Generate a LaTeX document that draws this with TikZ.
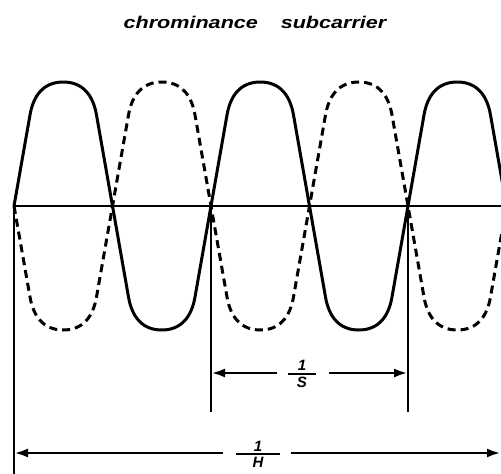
\documentclass[tikz,border=0pt]{standalone}
\usepackage{amsmath}
\usepackage{fontspec}
\usepackage{graphicx}
\setmainfont{Liberation Sans}
\usetikzlibrary{arrows.meta}
\tikzset{
  wave/.style={line width=3pt, line join=round},
  dashwave/.style={wave, dash pattern=on 8pt off 5pt},
  axisline/.style={line width=2.6pt},
  dimarrow/.style={line width=2.8pt, -{Latex[length=14pt,width=9pt]}},
  lbl/.style={font=\fontsize{15}{17}\selectfont\bfseries\itshape, inner sep=0pt}
}
\begin{document}
\begin{tikzpicture}[x=1pt,y=-1pt]
\useasboundingbox (0,0) rectangle (501,474);
% title
\node[anchor=base, font=\fontsize{17}{20}\selectfont\bfseries\itshape] (title) at (255,28)
  {\scalebox{1.27}[1]{chrominance\hspace{18pt}subcarrier}};
% key coordinates
\coordinate (o) at (14,206);
\coordinate (bend) at (501,206);
\coordinate (obot) at (14,474);
\coordinate (v1t) at (211,206);
\coordinate (v1b) at (211,412);
\coordinate (v2t) at (408,206);
\coordinate (v2b) at (408,412);
\begin{scope}
\clip (0,0) rectangle (501,474);
% solid wave
\draw[wave] (14,206)
  \foreach \x/\s in {14/1, 112.5/-1, 211/1, 309.5/-1, 408/1} {
    -- ({\x+16},{206-\s*91})
    .. controls ({\x+19.3},{206-\s*110}) and ({\x+29},{206-\s*124}) .. ({\x+49.25},{206-\s*124})
    .. controls ({\x+69.5},{206-\s*124}) and ({\x+79.2},{206-\s*110}) .. ({\x+82.5},{206-\s*91})
    -- ({\x+98.5},206)
  };
% dashed wave
\draw[dashwave] (14,206)
  \foreach \x/\s in {14/-1, 112.5/1, 211/-1, 309.5/1, 408/-1} {
    -- ({\x+16},{206-\s*91})
    .. controls ({\x+19.3},{206-\s*110}) and ({\x+29},{206-\s*124}) .. ({\x+49.25},{206-\s*124})
    .. controls ({\x+69.5},{206-\s*124}) and ({\x+79.2},{206-\s*110}) .. ({\x+82.5},{206-\s*91})
    -- ({\x+98.5},206)
  };
\end{scope}
% axis and verticals
\draw[axisline] (13,206) -- (bend);
\draw[axisline] (o) -- (obot);
\draw[axisline] (v1t) -- (v1b);
\draw[axisline] (v2t) -- (v2b);
% 1/S
\node[lbl] (fs) at (302,374) {$\genfrac{}{}{2pt}{1}{\makebox[28pt]{\bfseries\itshape 1}}{\mbox{\bfseries\itshape S}}$};
\coordinate (sL) at (277,373);
\coordinate (sR) at (329,373);
\coordinate (sLe) at (211,373);
\coordinate (sRe) at (408,373);
\draw[dimarrow] (sL) -- (sLe);
\draw[dimarrow] (sR) -- (sRe);
% 1/H
\node[lbl] (fh) at (258,454) {$\genfrac{}{}{2pt}{1}{\makebox[44pt]{\bfseries\itshape 1}}{\mbox{\bfseries\itshape H}}$};
\coordinate (hL) at (223,453);
\coordinate (hR) at (291,453);
\coordinate (hLe) at (14,453);
\coordinate (hRe) at (501,453);
\draw[dimarrow] (hL) -- (hLe);
\draw[dimarrow] (hR) -- (hRe);
\end{tikzpicture}
\end{document}
